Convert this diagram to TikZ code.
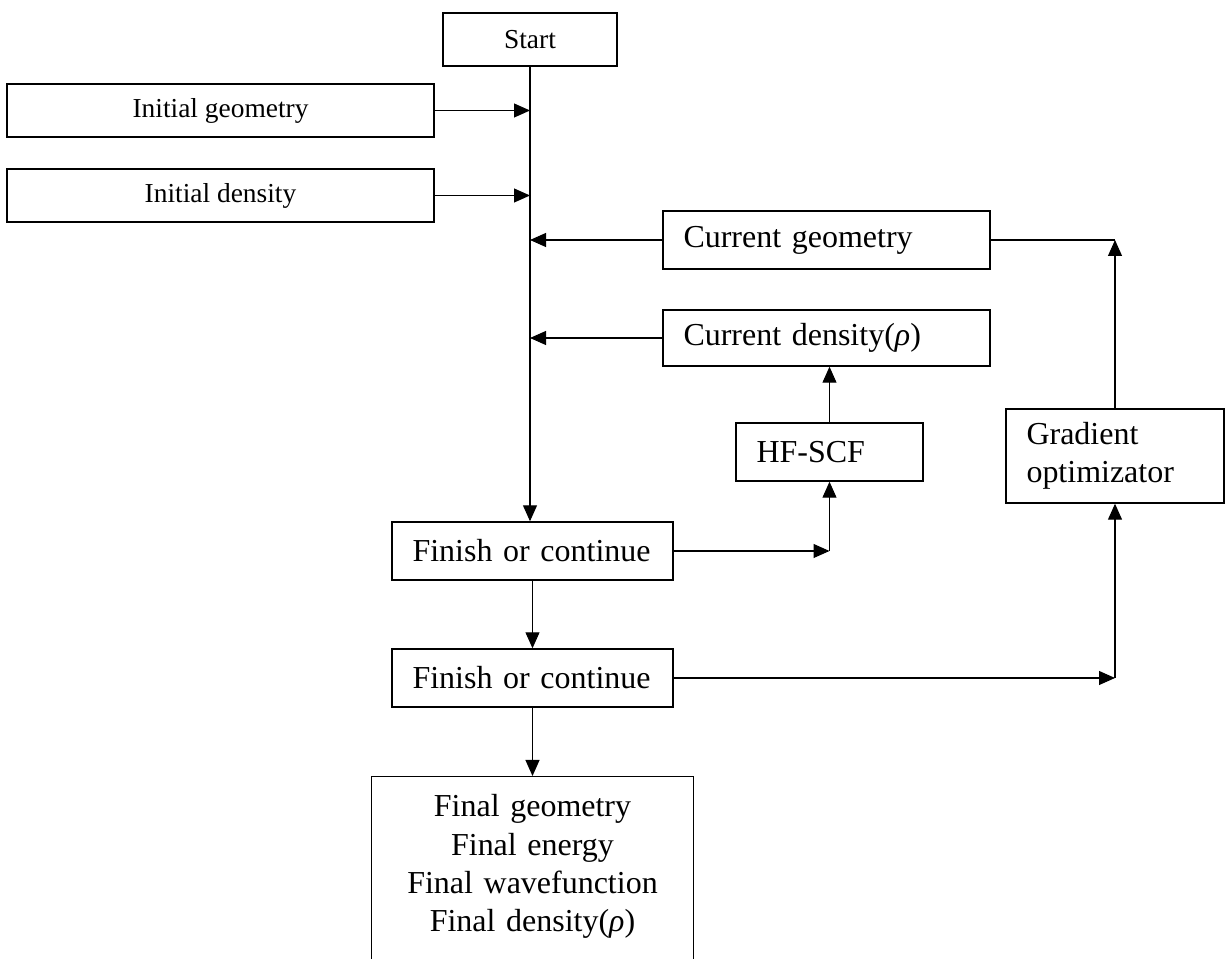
\documentclass[tikz,border=0pt]{standalone}
\usepackage{fontspec}
\setmainfont{Liberation Serif}
\usepackage{tikz}
\usetikzlibrary{arrows.meta,positioning,calc}
\newcommand{\startfont}{\fontsize{15.6}{18.7}\selectfont}
\newcommand{\boxfont}{\fontsize{18.2}{21.8}\selectfont}
\tikzstyle{cbox}=[draw, line width=0.8pt, font=\startfont, inner sep=0pt]
\tikzstyle{lbox}=[draw, line width=0.8pt, font=\boxfont, align=left, inner xsep=0.41cm, inner ysep=0pt]
\tikzstyle{con}=[line width=0.6pt]
\tikzstyle{arr}=[con, -{Triangle[length=0.32cm,width=0.28cm]}]

\begin{document}
\begin{tikzpicture}
	\clip (0,0) rectangle (24.5,-19.18);
	\node[cbox, minimum width=3.48cm, minimum height=1.06cm] (start) at (10.6,-0.79) {Start};
	\node[cbox, minimum width=8.54cm, minimum height=1.06cm] (ig) at (4.41,-2.21) {Initial geometry};
	\node[cbox, minimum width=8.54cm, minimum height=1.06cm] (id) at (4.41,-3.91) {Initial density};
	\node[lbox, text width=5.72cm, minimum height=1.16cm] (cg) at (16.53,-4.8) {Current geometry};
	\node[lbox, text width=5.72cm, minimum height=1.12cm] (cd) at (16.53,-6.76) {Current density(\textit{ρ})};
	\node[lbox, text width=2.92cm, minimum height=1.16cm] (hf) at (16.59,-9.04) {HF-SCF};
	\node[lbox, text width=3.54cm, minimum height=1.88cm] (grad) at (22.3,-9.12) {Gradient\\optimizator};
	\node[lbox, text width=4.80cm, minimum height=1.16cm] (fin1) at (10.65,-11.02) {Finish or continue};
	\node[lbox, text width=4.80cm, minimum height=1.16cm] (fin2) at (10.65,-13.56) {Finish or continue};
	\node[lbox, align=center, text width=5.62cm, inner ysep=0.36cm, text depth=4cm, anchor=north] (final) at (10.65,-15.52)
		{Final geometry\\Final energy\\Final wavefunction\\Final density(\textit{ρ})};
	% main line and inputs
	\draw[arr] (start.south) -- (start.south |- fin1.north);
	\draw[arr] (ig.east) -- (ig.east -| start.south);
	\draw[arr] (id.east) -- (id.east -| start.south);
	\draw[arr] (cg.west) -- (cg.west -| start.south);
	\draw[arr] (cd.west) -- (cd.west -| start.south);
	% SCF loop
	\draw[arr] (fin1.east) -- (fin1.east -| hf.south);
	\draw[arr] (fin1.east -| hf.south) -- (hf.south);
	\draw[arr] (hf.north) -- (hf.north |- cd.south);
	% geometry loop
	\draw[arr] (fin2.east) -- (fin2.east -| grad.south);
	\draw[arr] (fin2.east -| grad.south) -- (grad.south);
	\draw[con] (cg.east) -- (cg.east -| grad.north);
	\draw[arr] (grad.north) -- (grad.north |- cg.east);
	\draw[arr] (fin1.south) -- (fin2.north);
	\draw[arr] (fin2.south) -- (final.north);
\end{tikzpicture}
\end{document}
